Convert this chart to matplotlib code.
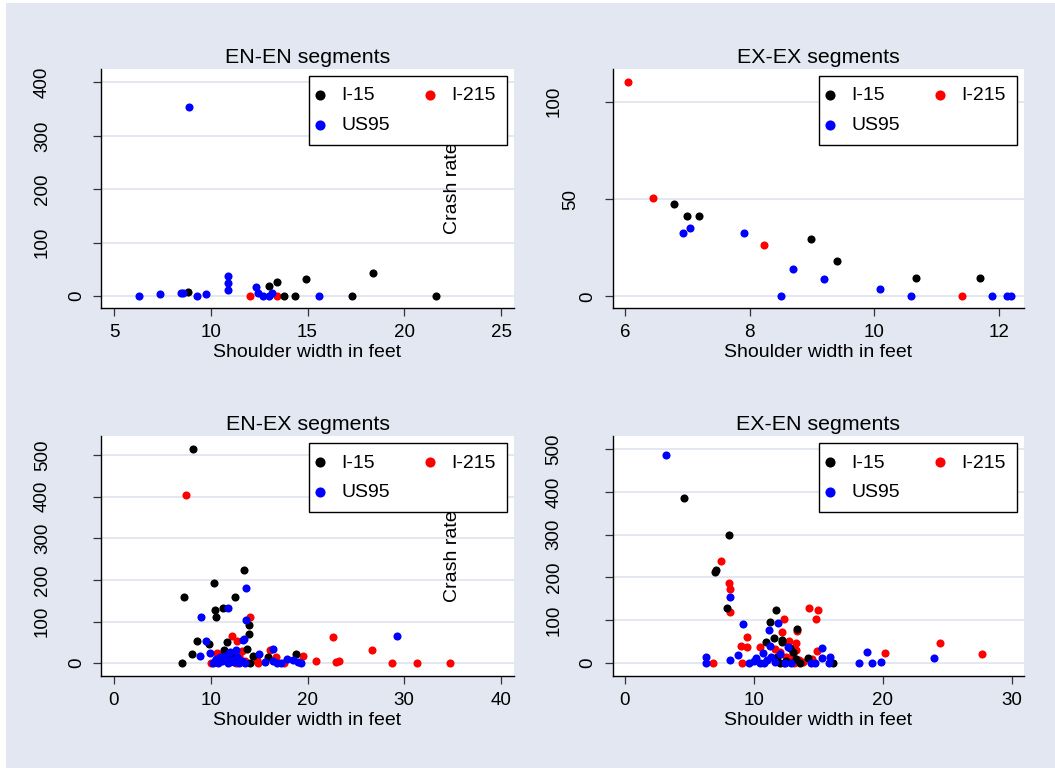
import matplotlib
matplotlib.use("Agg")
from matplotlib import pyplot as plt
from matplotlib.patches import Rectangle

plt.rcParams['font.family'] = ['Liberation Sans', 'DejaVu Sans']

# EN-EN segments
enen_i15_x = [8.84, 12.99, 13.44, 13.80, 14.35, 14.94, 17.28, 18.40, 21.64]
enen_i15_y = [7, 19, 27, 0, 0, 32, 0, 43, 0]
enen_i215_x = [12.03, 13.44]
enen_i215_y = [0, 0]
enen_us95_x = [8.89, 6.29, 7.38, 8.46, 8.58, 9.27, 9.75, 10.91, 10.91, 10.91,
               12.32, 12.46, 12.72, 13.03, 13.14, 15.61]
enen_us95_y = [354, 0, 5, 5.5, 5.5, 0, 3.7, 38, 25, 12, 17, 6, 0, 0, 6, 0]

# EX-EX segments
exex_i15_x = [6.78, 6.99, 7.18, 8.99, 9.40, 10.66, 11.69]
exex_i15_y = [47.6, 41.3, 41.3, 29.3, 18.2, 9.2, 9.6]
exex_i215_x = [6.04, 6.44, 8.23, 11.41]
exex_i215_y = [110.1, 50.3, 26.5, 0]
exex_us95_x = [6.93, 7.04, 7.90, 8.50, 8.70, 9.19, 10.09, 10.59, 11.89, 12.13, 12.19]
exex_us95_y = [32.7, 35.1, 32.7, 0, 14.0, 9.1, 3.8, 0, 0, 0, 0]

# EN-EX segments
enex_i15_x = [8.13, 13.40, 10.37, 7.20, 12.54, 11.27, 10.44, 10.58, 13.95, 13.92,
              8.55, 9.85, 11.71, 13.78, 8.03, 7.00, 11.37, 15.95, 18.81, 14.06,
              14.40, 12.50, 11.00, 13.00, 12.20, 10.80]
enex_i15_y = [514, 225, 192, 160, 158, 133, 127, 110, 91, 71,
              53, 47, 51, 34.5, 21, 0, 31, 15, 21, 0,
              18, 10, 5, 3, 15, 8]
enex_i215_x = [7.41, 14.02, 12.16, 22.60, 12.75, 16.12, 26.63, 10.68, 19.57, 20.88,
               22.95, 23.29, 28.73, 31.28, 34.69, 14.92, 16.71, 17.57, 14.80, 10.00,
               11.50, 12.00, 12.90, 13.50, 11.00, 12.60, 13.20]
enex_i215_y = [405, 111, 66, 62.5, 54, 32, 32, 25, 17.6, 4,
               2.4, 4, 0, 0, 0, 0, 14, 0, 7, 0,
               12, 3, 18, 6, 20, 0, 28]
enex_us95_x = [13.61, 11.82, 8.96, 13.64, 29.29, 9.51, 13.40, 16.47, 13.37, 8.92,
               9.96, 17.88, 18.54, 19.33, 15.02, 15.61, 16.81, 16.47, 17.30, 19.00,
               10.20, 10.50, 10.80, 11.20, 11.50, 11.80, 12.10, 12.40, 12.70, 12.90,
               13.20, 13.50, 12.00, 12.60, 11.00, 10.40]
enex_us95_y = [179.5, 133, 111, 103, 64, 53, 57, 34, 55, 16,
               25, 11, 7, 0, 21, 3, 0, 4, 0, 3,
               0, 10, 0, 5, 18, 0, 8, 2, 14, 0,
               6, 0, 26, 32, 15, 4]

# EX-EN segments
exen_i15_x = [4.55, 8.04, 6.98, 7.03, 7.89, 11.71, 11.25, 13.37, 11.59, 12.15,
              12.20, 10.91, 16.16, 14.22, 13.00, 13.30, 12.50, 11.80, 12.00, 13.60, 12.80]
exen_i15_y = [386, 299, 213, 217, 128, 123, 96, 79, 59, 54,
              48, 49, 0, 12, 25, 10, 5, 15, 0, 0, 35]
exen_i215_x = [7.45, 8.07, 8.15, 8.15, 12.34, 14.27, 14.97, 14.82, 13.32, 12.21,
               9.46, 9.46, 8.97, 10.47, 12.75, 13.24, 14.92, 20.20, 24.41, 27.70,
               6.80, 9.05, 12.00, 12.50, 12.80, 13.00, 13.30, 13.50, 13.80, 12.30,
               11.60, 13.10, 14.50]
exen_i215_y = [238, 188, 173, 119, 104, 129, 125, 104, 75, 72,
               61, 37, 39, 37, 51, 47.5, 29, 23, 47, 20,
               0, 0, 25, 15, 5, 20, 30, 8, 2, 0,
               32, 0, 10]
exen_us95_x = [3.15, 8.15, 9.18, 11.87, 11.17, 11.25, 12.67, 15.26, 18.75, 23.97,
               6.28, 6.28, 8.17, 8.77, 9.65, 10.16, 10.73, 18.18, 19.14, 19.86,
               15.90, 15.83, 15.26, 14.43, 14.77, 10.50, 11.00, 11.30, 11.60, 12.00,
               12.40, 12.90, 10.00, 10.80]
exen_us95_y = [486, 154, 91, 93, 76, 40, 38, 34, 25, 11,
               14, 0, 7, 19, 0, 12, 24, 0, 0, 3,
               13, 0, 12, 0, 0, 0, 8, 15, 3, 20,
               0, 0, 5, 0]

panels = [
    ("EN-EN segments", enen_i15_x, enen_i15_y, enen_i215_x, enen_i215_y, enen_us95_x, enen_us95_y,
     [5, 10, 15, 20, 25], (4.33, 25.67), [0, 100, 200, 300, 400], (-22, 425), True),
    ("EX-EX segments", exex_i15_x, exex_i15_y, exex_i215_x, exex_i215_y, exex_us95_x, exex_us95_y,
     [6, 8, 10, 12], (5.80, 12.40), [0, 50, 100], (-6.0, 116.8), False),
    ("EN-EX segments", enex_i15_x, enex_i15_y, enex_i215_x, enex_i215_y, enex_us95_x, enex_us95_y,
     [0, 10, 20, 30, 40], (-1.34, 41.34), [0, 100, 200, 300, 400, 500], (-31, 546), True),
    ("EX-EN segments", exen_i15_x, exen_i15_y, exen_i215_x, exen_i215_y, exen_us95_x, exen_us95_y,
     [0, 10, 20, 30], (-0.95, 30.95), [0, 100, 200, 300, 400, 500], (-30.4, 530.8), False),
]

W, H = 1055, 768
bg = '#E2E7F1'
fig = plt.figure(figsize=(W / 100, H / 100), dpi=100, facecolor='white')
fig.patches.append(Rectangle((6 / W, 0), 1, 765 / H, transform=fig.transFigure,
                             facecolor=bg, edgecolor='none', zorder=-10))

boxes = [(101, 69, 413, 239), (612.7, 69, 411.3, 239),
         (101, 436, 413, 240), (612.7, 436, 411.3, 240)]

for (title, ax_, ay_, bx_, by_, cx_, cy_, xt, xl, yt, yl, crash), (l, t, w, h) in zip(panels, boxes):
    ax = fig.add_axes([l / W, 1 - (t + h) / H, w / W, h / H])
    ax.set_facecolor('white')
    for y in yt:
        ax.axhline(y, color='#E1E6EF', lw=1.3, zorder=0)
    ax.scatter(ax_, ay_, s=34, c='black', linewidths=0, label='I-15', zorder=3)
    ax.scatter(cx_, cy_, s=34, c='#0000FF', linewidths=0, label='US95', zorder=3)
    ax.scatter(bx_, by_, s=34, c='#FF0000', linewidths=0, label='I-215', zorder=2.9)
    ax.set_xlim(*xl)
    ax.set_ylim(*yl)
    ax.set_xticks(xt)
    ax.set_yticks(yt)
    ax.spines['top'].set_visible(False)
    ax.spines['right'].set_visible(False)
    for s in ('left', 'bottom'):
        ax.spines[s].set_linewidth(1.0)
        ax.spines[s].set_color('black')
    ax.tick_params(axis='both', direction='out', length=5.8, width=0.9, color='#333333',
                   labelsize=13.5, pad=6)
    for lab in ax.get_yticklabels():
        lab.set_rotation(90)
        lab.set_va('center')
    for tk, v in zip(ax.yaxis.get_major_ticks(), yt):
        n = len(str(v))
        tk.set_pad((8 + 17 * (n - 1)) * 0.72)
    ax.set_xlabel('Shoulder width in feet', fontsize=14, labelpad=2)
    ax.set_title(title, fontsize=15.4, pad=4.5)
    if crash:
        ax.text(0.852, 0.5, 'Crash rate', transform=ax.transAxes, rotation=90,
                ha='center', va='center', fontsize=14, zorder=1)
    handles, labels = ax.get_legend_handles_labels()
    leg = ax.legend(handles, labels, ncol=2,
                    loc='upper right', bbox_to_anchor=(1, 1), borderaxespad=0.37,
                    fontsize=14, handlelength=0.1, handletextpad=1.05, markerscale=1.25,
                    columnspacing=2.0, labelspacing=0.62, borderpad=0.55,
                    fancybox=False, framealpha=1, edgecolor='black')
    leg.get_frame().set_linewidth(1.0)
    leg.set_zorder(5)

fig.savefig('out.png', dpi=100, facecolor=fig.get_facecolor())
